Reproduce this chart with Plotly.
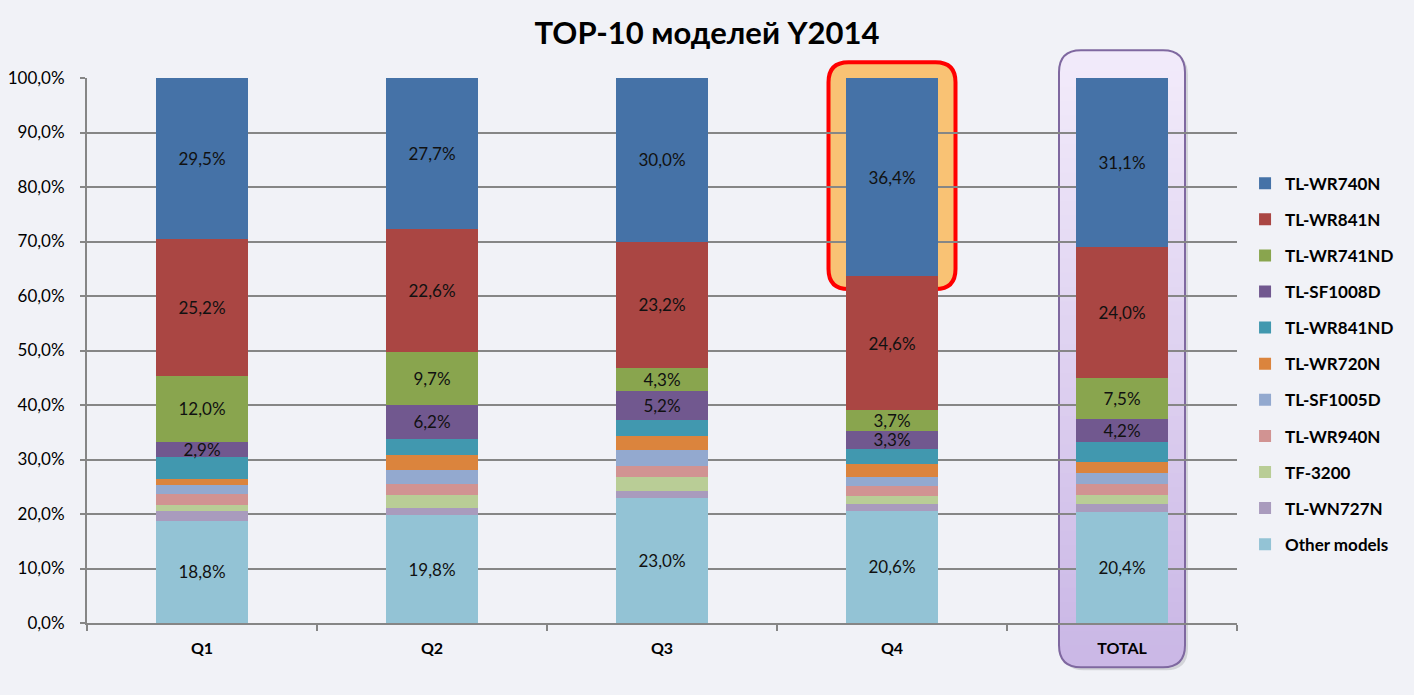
import plotly.graph_objects as go

categories = ["Q1", "Q2", "Q3", "Q4", "TOTAL"]

# stacked from bottom to top
series_names = ["Other models", "TL-WN727N", "TF-3200", "TL-WR940N", "TL-SF1005D",
                "TL-WR720N", "TL-WR841ND", "TL-SF1008D", "TL-WR741ND", "TL-WR841N", "TL-WR740N"]

other_models = [18.8, 19.8, 23.0, 20.6, 20.4]
tl_wn727n = [1.7, 1.3, 1.2, 1.3, 1.4]
tf_3200 = [1.1, 2.4, 2.6, 1.4, 1.7]
tl_wr940n = [2.1, 2.0, 2.1, 1.8, 2.0]
tl_sf1005d = [1.6, 2.6, 2.9, 1.7, 2.0]
tl_wr720n = [1.1, 2.7, 2.6, 2.4, 2.1]
tl_wr841nd = [4.0, 3.0, 2.9, 2.8, 3.6]
tl_sf1008d = [2.9, 6.2, 5.2, 3.3, 4.2]
tl_wr741nd = [12.0, 9.7, 4.3, 3.7, 7.5]
tl_wr841n = [25.2, 22.6, 23.2, 24.6, 24.0]
tl_wr740n = [29.5, 27.7, 30.0, 36.4, 31.1]

series_values = [other_models, tl_wn727n, tf_3200, tl_wr940n, tl_sf1005d, tl_wr720n,
                 tl_wr841nd, tl_sf1008d, tl_wr741nd, tl_wr841n, tl_wr740n]
series_colors = ["#93C3D5", "#A99BBD", "#B9CD96", "#D19392", "#93A9CF", "#DB843D",
                 "#4198AF", "#71588F", "#89A54E", "#AA4643", "#4572A7"]
labeled = {"Other models", "TL-SF1008D", "TL-WR741ND", "TL-WR841N", "TL-WR740N"}

y_ticks = [0, 10, 20, 30, 40, 50, 60, 70, 80, 90, 100]
y_tick_labels = [f"{v:.1f}".replace(".", ",") + "%" for v in y_ticks]

FONT = "Lato, 'Noto Sans', sans-serif"
BG = "#f1f2f7"
GRID = "#868686"

fig = go.Figure()
nser = len(series_names)
for idx, (name, vals, col) in enumerate(zip(series_names, series_values, series_colors)):
    txt = [(f"{v:.1f}".replace(".", ",") + "%") if name in labeled else "" for v in vals]
    fig.add_trace(go.Bar(
        name=name, x=categories, y=vals, marker=dict(color=col, line=dict(width=0)),
        text=txt, textposition="inside", insidetextanchor="middle", textangle=0,
        constraintext="none", textfont=dict(family=FONT, size=17, color="#111111"),
        legendgroup=name, legendrank=nser - idx,
    ))

n = len(categories)


def rounded(x0, x1, y0, y1, rx, ry):
    return (f"M {x0+rx},{y0} L {x1-rx},{y0} Q {x1},{y0} {x1},{y0+ry} "
            f"L {x1},{y1-ry} Q {x1},{y1} {x1-rx},{y1} L {x0+rx},{y1} "
            f"Q {x0},{y1} {x0},{y1-ry} L {x0},{y0+ry} Q {x0},{y0} {x0+rx},{y0} Z")


PW, PH = 1150.0, 545.0
shapes = []

# Q4 highlight
i4 = categories.index("Q4")
cx = (i4 + 0.5) / n
hw = 63.5 / PW
shapes.append(dict(type="path", xref="paper", yref="paper", layer="below",
                   path=rounded(cx - hw, cx + hw, 0.613, 1.029, 20 / PW, 20 / PH),
                   fillcolor="#F9C274", line=dict(color="#FF0000", width=4)))

# TOTAL highlight with vertical gradient
it = categories.index("TOTAL")
cx = (it + 0.5) / n
hw = 63 / PW
yb, yt = -0.081, 1.051
rx, ry = 22 / PW, 22 / PH
sx, sy = 3 / PW, 3 / PH
shapes.append(dict(type="path", xref="paper", yref="paper", layer="below",
                   path=rounded(cx - hw + sx, cx + hw + sx, yb - sy, yt - sy, rx, ry),
                   fillcolor="rgba(0,0,0,0.12)", line=dict(width=0)))
top_c = (241, 234, 250)
bot_c = (203, 184, 230)


def mix(t):
    return "rgb(%d,%d,%d)" % tuple(round(bot_c[k] + (top_c[k] - bot_c[k]) * t) for k in range(3))


shapes.append(dict(type="path", xref="paper", yref="paper", layer="below",
                   path=rounded(cx - hw, cx + hw, yb, yt, rx, ry),
                   fillcolor=mix(0.5), line=dict(width=0)))
nb = 40
y_lo, y_hi = yb + ry, yt - ry
shapes.append(dict(type="path", xref="paper", yref="paper", layer="below",
                   path=rounded(cx - hw, cx + hw, yb, yb + 2.2 * ry, rx, ry),
                   fillcolor=mix(0.0), line=dict(width=0)))
shapes.append(dict(type="path", xref="paper", yref="paper", layer="below",
                   path=rounded(cx - hw, cx + hw, yt - 2.2 * ry, yt, rx, ry),
                   fillcolor=mix(1.0), line=dict(width=0)))
for k in range(nb):
    a = y_lo + (y_hi - y_lo) * k / nb
    b = y_lo + (y_hi - y_lo) * (k + 1) / nb
    shapes.append(dict(type="rect", xref="paper", yref="paper", layer="below",
                       x0=cx - hw, x1=cx + hw, y0=a, y1=b + 0.002,
                       fillcolor=mix((k + 0.5) / nb), line=dict(width=0)))
shapes.append(dict(type="path", xref="paper", yref="paper", layer="below",
                   path=rounded(cx - hw, cx + hw, yb, yt, rx, ry),
                   fillcolor="rgba(0,0,0,0)", line=dict(color="#7F68A0", width=2)))

fig.update_layout(
    width=1414, height=695,
    barmode="stack", bargap=0.6,
    separators=",.",
    paper_bgcolor=BG, plot_bgcolor="rgba(0,0,0,0)",
    margin=dict(l=87, r=177, t=78, b=72),
    font=dict(family=FONT, color="#000000"),
    title=dict(text="<b>TOP-10 моделей Y2014</b>", x=0.5, xanchor="center",
               y=0.952, yanchor="middle", font=dict(family=FONT, size=31, color="#000000")),
    legend=dict(traceorder="grouped", tracegroupgap=11, x=1.007, xanchor="left",
                y=0.475, yanchor="middle", bgcolor="rgba(0,0,0,0)",
                font=dict(family=FONT, size=17, color="#000000", weight="bold")),
    shapes=shapes,
    showlegend=True,
)
fig.update_xaxes(type="category", showgrid=False, showline=True, linecolor=GRID, linewidth=2,
                 ticks="outside", tickson="boundaries", ticklen=6, tickcolor=GRID, tickwidth=2,
                 tickfont=dict(family=FONT, size=16, color="#000000", weight="bold"),
                 ticklabelstandoff=10, automargin=False)
fig.update_yaxes(range=[0, 100], tickmode="array", tickvals=y_ticks, ticktext=y_tick_labels,
                 showgrid=True, gridcolor=GRID, gridwidth=1.6, showline=True, linecolor=GRID,
                 linewidth=2, ticks="outside", ticklen=5, tickcolor=GRID, tickwidth=2,
                 zeroline=False, tickfont=dict(family=FONT, size=17, color="#000000"),
                 ticklabelstandoff=12, automargin=False)

fig.write_html("out.html", config={"displayModeBar": False},
               post_script="document.body.style.margin='0';document.body.style.background='#f1f2f7';")
